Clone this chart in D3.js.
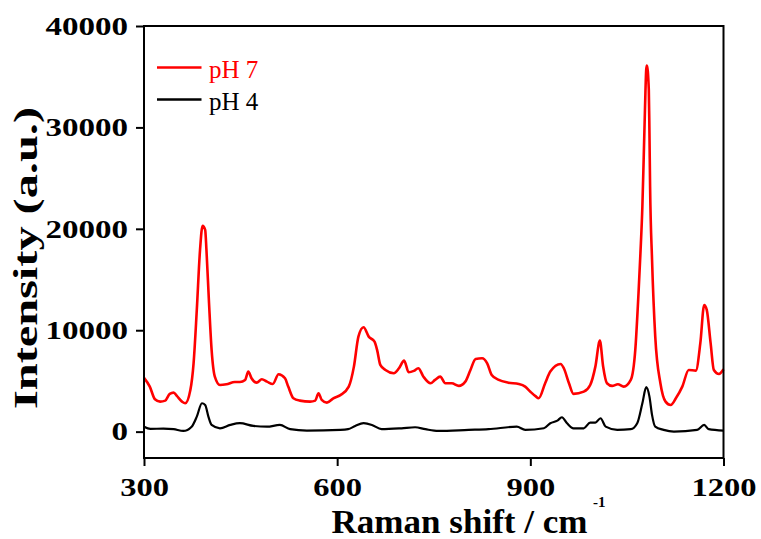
<!DOCTYPE html>
<html>
<head>
<meta charset="utf-8">
<script src="https://cdn.jsdelivr.net/npm/d3@7"></script>
<style>
  html, body { margin: 0; padding: 0; background: #fff; }
  svg { display: block; }
  text { font-family: "Liberation Serif", "Times New Roman", serif; }
</style>
</head>
<body>
<svg id="chart" width="761" height="539"></svg>
<script>
// Raman spectra, pH 7 vs pH 4
const shiftPH7 = [300, 309, 317, 325, 333, 340, 346, 351, 359, 364, 372, 377, 382, 387, 391, 395, 397, 401, 405, 410,
  418, 428, 441, 449, 457, 462, 467, 475, 483, 491, 500, 509, 519, 524, 532, 542, 558, 566, 571, 576,
  584, 594, 605, 618, 626, 633, 641, 649, 658, 662, 667, 675, 688, 696, 704, 711, 719, 726, 734, 745,
  752, 760, 768, 778, 789, 799, 807, 815, 825, 833, 840, 851, 866, 882, 892, 900, 908, 913, 923, 931,
  947, 952, 960, 967, 983, 993, 1001, 1008, 1013, 1019, 1027, 1036, 1045, 1056, 1063, 1068, 1071, 1074, 1076, 1078,
  1080, 1081, 1084, 1085, 1086, 1089, 1094, 1102, 1110, 1118, 1126, 1136, 1146, 1157, 1164, 1170, 1174, 1180, 1185, 1193, 1200];
const intensityPH7 = [5300, 4440, 3190, 2960, 3060, 3720, 3850, 3520, 2960, 2800, 4110, 6740, 12000, 17900, 20300, 19900, 17900, 12660, 8060, 5420,
  4600, 4670, 4900, 4900, 5100, 5920, 5260, 4830, 5160, 4930, 4700, 5660, 5260, 4440, 3290, 3060, 2960, 3060, 3790, 3130,
  2860, 3290, 3600, 4440, 6410, 9370, 10290, 9370, 8870, 8060, 6580, 6080, 5760, 6250, 7000, 5860, 5990, 6250, 5420, 4770,
  5100, 5420, 4770, 4770, 4510, 4930, 6080, 7170, 7240, 6740, 5590, 5100, 4830, 4700, 4440, 3940, 3500, 3290, 4770, 5920,
  6670, 6250, 4770, 3720, 3940, 4600, 6410, 8970, 6450, 4770, 4510, 4670, 4440, 5100, 8060, 13650, 17600, 22200, 26800, 31700,
  35700, 36100, 33700, 29450, 24160, 17000, 9370, 4770, 2960, 2630, 3290, 4440, 6080, 6020, 8720, 12490, 12000, 8720, 6080, 5690, 6150];

const shiftPH4 = [300, 310, 330, 346, 361, 374, 382, 390, 395, 400, 405, 418, 434, 449, 470, 491, 511, 527, 553, 605,
  617, 628, 641, 654, 669, 700, 721, 737, 757, 804, 835, 879, 892, 921, 931, 942, 949, 957, 967, 983,
  993, 1001, 1009, 1017, 1035, 1056, 1066, 1074, 1080, 1085, 1089, 1094, 1107, 1123, 1159, 1170, 1177, 1200];
const intensityPH4 = [490, 270, 300, 240, 70, 490, 1480, 2800, 2630, 1480, 660, 330, 660, 830, 560, 490, 660, 240, 100, 170,
  240, 560, 830, 660, 240, 330, 430, 240, 70, 170, 240, 490, 170, 330, 830, 1080, 1420, 830, 330, 330,
  890, 890, 1320, 490, 170, 240, 830, 2800, 4380, 3450, 1650, 490, 170, 0, 170, 660, 240, 100];

const seriesNames = ["pH 7", "pH 4"];
const seriesColors = ["#ff0000", "#000000"];
const xTicks = [300, 600, 900, 1200];
const yTicks = [0, 10000, 20000, 30000, 40000];

const svg = d3.select("#chart");
const plotL = 144, plotR = 723.5, plotT = 26, plotB = 458;

const x = d3.scaleLinear().domain([300, 1200]).range([plotL, plotR]);
const y = d3.scaleLinear().domain([-2600, 40000]).range([plotB, plotT]);

// stretch tick labels horizontally, the figure's fonts are wide
function widen(sel, k) {
  sel.each(function () {
    const len = this.getComputedTextLength();
    d3.select(this).attr("textLength", len * k).attr("lengthAdjust", "spacingAndGlyphs");
  });
}

const line = d3.line()
  .x((d) => x(d[0]))
  .y((d) => y(d[1]))
  .curve(d3.curveMonotoneX);

const series = [
  d3.zip(shiftPH7, intensityPH7),
  d3.zip(shiftPH4, intensityPH4),
];

// draw black under red
[1, 0].forEach((i) => {
  svg.append("path")
    .datum(series[i])
    .attr("fill", "none")
    .attr("stroke", seriesColors[i])
    .attr("stroke-width", i === 0 ? 2.6 : 2.2)
    .attr("stroke-linejoin", "round")
    .attr("d", line);
});

// frame
svg.append("rect")
  .attr("x", plotL).attr("y", plotT)
  .attr("width", plotR - plotL).attr("height", plotB - plotT)
  .attr("fill", "none").attr("stroke", "#000").attr("stroke-width", 2);

const xAxis = svg.append("g")
  .attr("transform", `translate(0,${plotB})`)
  .call(d3.axisBottom(x).tickValues(xTicks).tickSize(8).tickPadding(12).tickFormat(d3.format("d")));
const yAxis = svg.append("g")
  .attr("transform", `translate(${plotL},0)`)
  .call(d3.axisLeft(y).tickValues(yTicks).tickSize(8).tickPadding(8).tickFormat(d3.format("d")));

[xAxis, yAxis].forEach((g) => {
  g.select(".domain").remove();
  g.selectAll(".tick line").attr("stroke", "#000").attr("stroke-width", 2);
  g.selectAll(".tick text")
    .attr("fill", "#000")
    .style("font-family", '"Liberation Serif", "Times New Roman", serif')
    .style("font-weight", "bold")
    .style("font-size", "26px");
});
widen(xAxis.selectAll(".tick text"), 1.25);
widen(yAxis.selectAll(".tick text"), 1.27);

// axis titles
svg.append("text")
  .attr("x", 331.5).attr("y", 533)
  .attr("textLength", 256).attr("lengthAdjust", "spacingAndGlyphs")
  .style("font-weight", "bold").style("font-size", "34px")
  .text("Raman shift / cm");
svg.append("text")
  .attr("x", 593).attr("y", 507)
  .style("font-weight", "bold").style("font-size", "15px")
  .text("-1");

svg.append("text")
  .attr("transform", "translate(37,409) rotate(-90)")
  .attr("x", 0).attr("y", 0)
  .attr("textLength", 302).attr("lengthAdjust", "spacingAndGlyphs")
  .style("font-weight", "bold").style("font-size", "34px")
  .text("Intensity (a.u.)");

// legend
const legend = svg.append("g");
seriesNames.forEach((name, i) => {
  const ly = 67.5 + i * 32;
  legend.append("line")
    .attr("x1", 157).attr("x2", 201.5)
    .attr("y1", ly).attr("y2", ly)
    .attr("stroke", seriesColors[i]).attr("stroke-width", 2.6);
  legend.append("text")
    .attr("x", 209).attr("y", ly + 10.5)
    .attr("fill", seriesColors[i])
    .style("font-size", "25px")
    .text(name);
});
</script>
</body>
</html>
